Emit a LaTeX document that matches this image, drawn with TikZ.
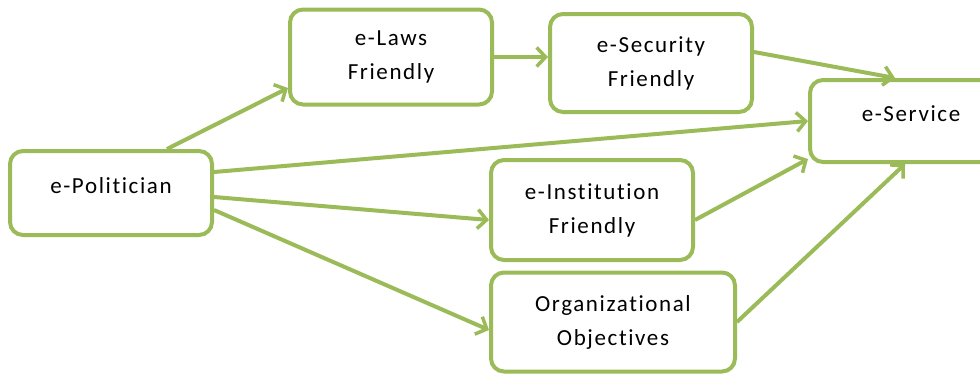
\documentclass[tikz,border=0pt]{standalone}
\usepackage{fontspec}
\setmainfont{Carlito}[LetterSpace=7,Ligatures=NoCommon]
\usepackage{tikz}
\usetikzlibrary{arrows.meta}
\definecolor{leaf}{RGB}{155,187,89}

\begin{document}
\begin{tikzpicture}[x=1pt,y=-1pt,
	box/.style={rectangle,draw=leaf,line width=4pt,rounded corners=13pt,fill=white,
		minimum width=202pt,minimum height=84pt,align=center,
		font=\fontsize{23}{34}\selectfont},
	link/.style={draw=leaf,line width=4pt,-{Straight Barb[length=9pt,width=19pt,line width=3.5pt]}}]
\useasboundingbox (0,0) rectangle (980,375);
\node [box,text depth=14pt] (pol) at (111,193) {e-Politician};
\node [box,minimum height=95pt] (laws) at (391,57) {e-Laws\\Friendly};
\node [box,minimum height=98pt] (sec) at (651,63) {e-Security\\Friendly};
\node [box,minimum height=82pt,text depth=14pt] (serv) at (911,121) {e-Service};
\node [box,minimum height=100pt] (inst) at (592,210) {e-Institution\\Friendly};
\node [box,minimum width=244pt,minimum height=99pt] (org) at (613,322) {Organizational\\Objectives};
% connectors
\draw [link] ([xshift=56pt]pol.north) -- ([yshift=-31pt]laws.west);
\draw [link] (laws.east) -- ([yshift=6pt]sec.west);
\draw [link] ([yshift=11pt]sec.east) -- ([xshift=-16pt]serv.north);
\draw [link] ([yshift=21pt]pol.east) -- (serv.west);
\draw [link] ([yshift=-4pt]pol.east) -- ([yshift=-10pt]inst.west);
\draw [link] ([yshift=-17pt]pol.east) -- ([yshift=-8pt]org.west);
\draw [link] ([yshift=-10pt]inst.east) -- ([yshift=5pt]serv.south west);
\draw [link] (org.east) -- ([xshift=-6pt]serv.south);
\end{tikzpicture}
\end{document}
